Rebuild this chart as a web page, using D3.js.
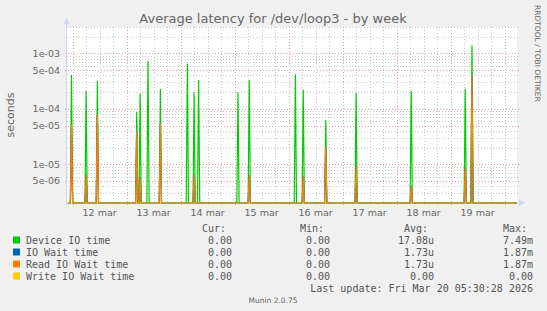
<!DOCTYPE html>
<html>
<head>
<meta charset="utf-8">
<script src="https://cdn.jsdelivr.net/npm/d3@7"></script>
<style>
    body { margin: 0; background: #f0f0f0; }
    svg { display: block; }
    text { font-family: "DejaVu Sans", sans-serif; fill: #666; }
    .mono { font-family: "DejaVu Sans Mono", monospace; font-size: 10px; fill: #555; }
</style>
</head>
<body>
<svg id="chart" width="547" height="311"></svg>
<script>
"use strict";

// spikes (30 min samples, everything else is 0)
var spikeTimes = [
    "2026-03-11T23:30", "2026-03-12T06:00", "2026-03-12T11:00", "2026-03-13T04:30",
    "2026-03-13T06:00", "2026-03-13T09:30", "2026-03-13T15:00", "2026-03-14T03:00",
    "2026-03-14T06:00", "2026-03-14T08:00", "2026-03-15T01:30", "2026-03-15T06:30",
    "2026-03-16T03:00", "2026-03-16T06:30", "2026-03-16T16:30", "2026-03-17T06:00",
    "2026-03-18T06:30", "2026-03-19T06:30", "2026-03-19T09:30"
];
var deviceIoTime = [
    4.1e-4, 2.1e-4, 3.2e-4, 8.8e-5, 1.85e-4, 7.3e-4, 2.3e-4, 6.6e-4, 2.0e-4, 3.3e-4,
    2.0e-4, 3.3e-4, 4.2e-4, 2.2e-4, 6.3e-5, 1.95e-4, 2.1e-4, 2.3e-4, 1.4e-3
];
var readIoWaitTime = [
    5.1e-5, 6.4e-6, 8.0e-5, 4.0e-5, 5.7e-6, 0, 5.5e-5, 0, 6.4e-6, 0,
    0, 6.4e-6, 0, 6.1e-6, 2.1e-5, 9.6e-6, 4.1e-6, 8.6e-6, 4.1e-4
];
var ioWaitTime = readIoWaitTime.slice();
var writeIoWaitTime = spikeTimes.map(function() { return 0; });

var yTicks = [1e-3, 5e-4, 1e-4, 5e-5, 1e-5, 5e-6];
var dayTicks = ["2026-03-12", "2026-03-13", "2026-03-14", "2026-03-15",
                "2026-03-16", "2026-03-17", "2026-03-18", "2026-03-19", "2026-03-20"];

var legendRows = [
    {name: "Device IO time",      color: "#00cc00", cur: "0.00", min: "0.00", avg: "17.08u", max: "7.49m"},
    {name: "IO Wait time",        color: "#0066b3", cur: "0.00", min: "0.00", avg: "1.73u",  max: "1.87m"},
    {name: "Read IO Wait time",   color: "#ff8000", cur: "0.00", min: "0.00", avg: "1.73u",  max: "1.87m"},
    {name: "Write IO Wait time",  color: "#ffcc00", cur: "0.00", min: "0.00", avg: "0.00",   max: "0.00"}
];

var endTime = new Date("2026-03-20T05:30:28");
var startTime = new Date(endTime.getTime() - 200 * 3600 * 1000);
var step = 30 * 60 * 1000;

var plot = {left: 67, top: 27, right: 517, bottom: 203};
var floorValue = 2e-6;

var x = d3.scaleTime().domain([startTime, endTime]).range([plot.left, plot.right]);
var y = d3.scaleLog().domain([floorValue, 3e-3]).range([plot.bottom, plot.top]);

// expand the spikes into a regular 30 minute series
function buildSeries(values) {
    var lookup = {};
    spikeTimes.forEach(function(t, i) { lookup[new Date(t).getTime()] = values[i]; });
    var first = Math.ceil(startTime.getTime() / step) * step;
    var out = [];
    for (var t = first; t <= endTime.getTime(); t += step) {
        out.push({t: new Date(t), v: lookup[t] || 0});
    }
    return out;
}

var svg = d3.select("#chart");

svg.append("rect")
       .attr("x", plot.left).attr("y", plot.top)
       .attr("width", plot.right - plot.left)
       .attr("height", plot.bottom - plot.top)
       .attr("fill", "#fff");

svg.append("clipPath").attr("id", "clip")
   .append("rect")
       .attr("x", plot.left).attr("y", plot.top - 1)
       .attr("width", plot.right - plot.left)
       .attr("height", plot.bottom - plot.top + 2);

var grid = svg.append("g").attr("shape-rendering", "crispEdges");

// horizontal grid, minor grey and labelled red
var minor = [], major = [];
for (var e = -6; e <= -3; e++) {
    for (var m = 1; m <= 9; m++) {
        var v = m * Math.pow(10, e);
        if (v < floorValue || v > 3e-3) continue;
        (m === 1 || m === 5 ? major : minor).push(v);
    }
}
grid.selectAll(".hminor").data(minor).enter()
    .append("line")
        .attr("x1", plot.left).attr("x2", plot.right + 3)
        .attr("y1", function(d) { return Math.round(y(d)) + 0.5; })
        .attr("y2", function(d) { return Math.round(y(d)) + 0.5; })
        .attr("stroke", "#c8c8c8").attr("stroke-dasharray", "1,2");
grid.selectAll(".hmajor").data(major).enter()
    .append("line")
        .attr("x1", plot.left - 2).attr("x2", plot.right + 3)
        .attr("y1", function(d) { return Math.round(y(d)) + 0.5; })
        .attr("y2", function(d) { return Math.round(y(d)) + 0.5; })
        .attr("stroke", "#e6a0a0").attr("stroke-dasharray", "1,2");

// vertical grid, every 6 hours and red at midnight
var sixHours = d3.timeHour.every(6).range(startTime, endTime);
grid.selectAll(".vminor").data(sixHours.filter(function(d) { return d.getHours() !== 0; })).enter()
    .append("line")
        .attr("x1", function(d) { return Math.round(x(d)) + 0.5; })
        .attr("x2", function(d) { return Math.round(x(d)) + 0.5; })
        .attr("y1", plot.top).attr("y2", plot.bottom)
        .attr("stroke", "#c8c8c8").attr("stroke-dasharray", "1,2");
grid.selectAll(".vmajor").data(dayTicks.map(function(d) { return new Date(d + "T00:00"); })).enter()
    .append("line")
        .attr("x1", function(d) { return Math.round(x(d)) + 0.5; })
        .attr("x2", function(d) { return Math.round(x(d)) + 0.5; })
        .attr("y1", plot.top).attr("y2", plot.bottom + 3)
        .attr("stroke", "#e6a0a0").attr("stroke-dasharray", "1,2");

// the series, zero sits on the bottom edge
var line = d3.line()
             .x(function(d) { return x(d.t); })
             .y(function(d) { return y(Math.max(d.v, floorValue)); });

var series = [deviceIoTime, ioWaitTime, readIoWaitTime, writeIoWaitTime];
var lines = svg.append("g").attr("clip-path", "url(#clip)");
series.forEach(function(values, i) {
    lines.append("path")
         .datum(buildSeries(values))
             .attr("d", line)
             .attr("fill", "none")
             .attr("stroke", legendRows[i].color)
             .attr("stroke-width", 1.2)
             .attr("stroke-opacity", i === 3 ? 0.45 : 1);
});

// axes with the rrdtool arrows
var axes = svg.append("g").attr("fill", "#cfd6f8").attr("stroke", "#cfd6f8");
axes.append("line")
        .attr("x1", plot.left - 0.5).attr("x2", plot.left - 0.5)
        .attr("y1", plot.bottom + 3).attr("y2", plot.top - 4);
axes.append("path")
        .attr("d", "M" + (plot.left - 3.5) + "," + (plot.top - 3) + "l3,-6l3,6z")
        .attr("stroke", "none");
axes.append("path")
        .attr("d", "M" + (plot.right + 2) + "," + (plot.bottom - 3.5) + "l6,3.5l-6,3.5z")
        .attr("stroke", "none");
axes.append("line")
        .attr("x1", plot.right).attr("x2", plot.right + 3)
        .attr("y1", plot.bottom + 0.5).attr("y2", plot.bottom + 0.5);

// y labels
svg.append("g").selectAll("text").data(yTicks).enter()
   .append("text")
       .attr("x", 60)
       .attr("y", function(d) { return y(d); })
       .attr("dy", "0.36em")
       .attr("text-anchor", "end")
       .attr("font-size", "9.5px")
       .text(function(d) { return d3.format(".0e")(d).replace(/e([+-])(\d)$/, "e$10$2"); });

// day labels at noon
svg.append("g").selectAll("text").data(dayTicks.slice(0, 8)).enter()
   .append("text")
       .attr("x", function(d) { return x(new Date(d + "T12:00")); })
       .attr("y", 216)
       .attr("text-anchor", "middle")
       .attr("font-size", "9.5px")
       .text(function(d) { return +d.slice(8) + " mar"; });

svg.append("text")
       .attr("x", 273).attr("y", 23)
       .attr("text-anchor", "middle")
       .attr("font-size", "13px")
       .attr("fill", "#5a5a5a")
       .text("Average latency for /dev/loop3 - by week");

svg.append("text")
       .attr("transform", "translate(14,115) rotate(-90)")
       .attr("text-anchor", "middle")
       .attr("font-size", "11px")
       .text("seconds");

svg.append("text")
       .attr("transform", "translate(535,5) rotate(90)")
       .attr("font-size", "7.5px")
       .attr("fill", "#c8c8c8")
       .text("RRDTOOL / TOBI OETIKER");

// legend
var cols = [{key: "cur", x: 232}, {key: "min", x: 330}, {key: "avg", x: 434}, {key: "max", x: 533}];
var headers = ["Cur:", "Min:", "Avg:", "Max:"];
svg.append("g").selectAll("text").data(headers).enter()
   .append("text")
       .attr("class", "mono")
       .attr("x", function(d, i) { return cols[i].x - 30; })
       .attr("y", 231.5)
       .text(function(d) { return d; });

var rows = svg.append("g").selectAll(".legend-item").data(legendRows).enter()
              .append("g")
                  .attr("class", "legend-item")
                  .attr("transform", function(d, i) { return "translate(0," + (243.5 + i * 12) + ")"; });
rows.append("rect")
        .attr("x", 13).attr("y", -7)
        .attr("width", 7).attr("height", 7)
        .attr("fill", function(d) { return d.color; });
rows.append("text")
        .attr("class", "mono")
        .attr("x", 26)
        .text(function(d) { return d.name; });
cols.forEach(function(c) {
    rows.append("text")
            .attr("class", "mono")
            .attr("x", c.x)
            .attr("text-anchor", "end")
            .text(function(d) { return d[c.key]; });
});

svg.append("text")
       .attr("class", "mono")
       .attr("x", 533).attr("y", 291.5)
       .attr("text-anchor", "end")
       .text("Last update: Fri Mar 20 05:30:28 2026");

svg.append("text")
       .attr("x", 273).attr("y", 303)
       .attr("text-anchor", "middle")
       .attr("font-size", "7.5px")
       .attr("fill", "#c8c8c8")
       .text("Munin 2.0.75");
</script>
</body>
</html>
